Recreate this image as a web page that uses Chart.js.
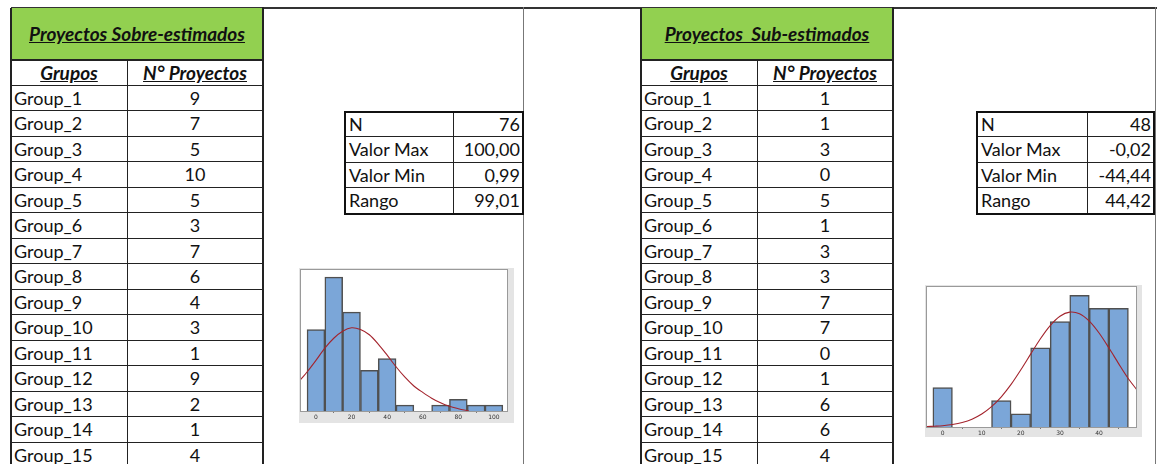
<!DOCTYPE html>
<html>
<head>
<meta charset="utf-8">
<script src="https://cdn.jsdelivr.net/npm/chart.js@4.4.1/dist/chart.umd.min.js"></script>
<style>
  body { margin: 0; background: #fff; width: 1157px; height: 464px; overflow: hidden; position: relative; font-family: Lato, "Open Sans", sans-serif; }
  .c { position: absolute; box-sizing: border-box; font-size: 18px; color: #111; white-space: pre; overflow: hidden; }
  .ln { position: absolute; background: #222; }
  canvas { position: absolute; }
</style>
</head>
<body>
<canvas id="hist1" width="215" height="155" style="left:299px;top:268px"></canvas>
<canvas id="hist2" width="217" height="152" style="left:925px;top:285px"></canvas>
<script>
// Datos de las tablas
const grupos = ['Group_1','Group_2','Group_3','Group_4','Group_5','Group_6','Group_7','Group_8',
                'Group_9','Group_10','Group_11','Group_12','Group_13','Group_14','Group_15'];
const proyectosSobre = [9, 7, 5, 10, 5, 3, 7, 6, 4, 3, 1, 9, 2, 1, 4];
const proyectosSub = [1, 1, 3, 0, 5, 1, 3, 3, 7, 7, 0, 1, 6, 6, 4];

const statsLabels = ['N', 'Valor Max', 'Valor Min', 'Rango'];
const statsSobre = ['76', '100,00', '0,99', '99,01'];
const statsSub = ['48', '-0,02', '-44,44', '44,42'];

// Histograma 1 (sobre-estimados): centros de clase y frecuencias
const bins1 = [0, 10, 20, 30, 40, 50, 60, 70, 80, 90, 100];
const freq1 = [14, 23, 17, 7, 9, 1, 0, 1, 2, 1, 1];
const curveX1 = [-10, -5, 0, 5, 10, 15, 20, 25, 30, 35, 40, 45, 50, 55, 60, 65, 70, 75, 80, 86];
const curveY1 = [4.9, 6.7, 8.7, 10.8, 12.5, 13.7, 14.3, 14.0, 13.1, 11.5, 9.6, 7.6, 5.8, 4.3, 3.2, 2.2, 1.4, 0.8, 0.4, 0];
const xTicks1 = [0, 20, 40, 60, 80, 100];

// Histograma 2 (sub-estimados)
const bins2 = [0, 5, 10, 15, 20, 25, 30, 35, 40, 45];
const freq2 = [3, 0, 0, 2, 1, 6, 8, 10, 9, 9];
const curveX2 = [-4, -2, 0, 2.5, 5, 7.5, 10, 12.5, 15, 17.5, 20, 22.5, 25, 27.5, 30, 32.5, 35, 37.5, 40, 42.5, 45, 47.5, 50];
const curveY2 = [0.03, 0.06, 0.1, 0.19, 0.34, 0.59, 0.98, 1.54, 2.29, 3.23, 4.34, 5.53, 6.7, 7.7, 8.41, 8.72, 8.59, 8.03, 7.13, 6.01, 4.81, 3.66, 2.7];
const xTicks2 = [0, 10, 20, 30, 40];

// ---- hoja de cálculo ----
function cell(x, y, w, h, text, css) {
    const d = document.createElement('div');
    d.className = 'c';
    d.style.cssText = `left:${x}px;top:${y}px;width:${w}px;height:${h}px;` + (css || '');
    d.textContent = text;
    document.body.appendChild(d);
    return d;
}
function line(x, y, w, h, color) {
    const d = document.createElement('div');
    d.className = 'ln';
    d.style.cssText = `left:${x}px;top:${y}px;width:${w}px;height:${h}px;` + (color ? `background:${color};` : '');
    document.body.appendChild(d);
}

const ROW = 25.5, HEAD_TOP = 60, DATA_TOP = 85.5;
const TXT = 'line-height:25px;';
const HDR = 'font-weight:bold;font-style:italic;text-decoration:underline;text-align:center;font-size:19px;';

function buildTable(x0, colA, colB, title, counts) {
    const w = colA + colB;
    cell(x0, 8, w, 52, title, HDR + 'background:#92d050;line-height:52px;');
    cell(x0, HEAD_TOP, colA, ROW, 'Grupos', HDR + 'line-height:26px;');
    cell(x0 + colA, HEAD_TOP, colB, ROW, 'N° Proyectos', HDR + 'line-height:26px;');
    grupos.forEach((g, i) => {
        const y = DATA_TOP + i * ROW;
        cell(x0, y, colA, ROW, g, TXT + 'padding-left:3px;');
        cell(x0 + colA, y, colB, ROW, String(counts[i]), TXT + 'text-align:center;');
    });
    // líneas horizontales
    for (let i = 0; i <= grupos.length; i++) {
        line(x0, Math.round(DATA_TOP + i * ROW) - 1, w, 1.3);
    }
    line(x0, HEAD_TOP - 1, w, 2);
    line(x0 + colA, HEAD_TOP, 1.3, 464 - HEAD_TOP);
    line(x0 - 1, 8, 1.5, 456);
    line(x0 + w - 1, 7, 2.2, 457);
}

function buildStats(x0, y0, colA, colB, values) {
    statsLabels.forEach((s, i) => {
        const y = y0 + i * ROW;
        cell(x0, y, colA, ROW, s, TXT + 'padding-left:4px;');
        cell(x0 + colA, y, colB, ROW, values[i], TXT + 'text-align:right;padding-right:3px;');
        if (i > 0) line(x0, Math.round(y) - 1, colA + colB, 1.2);
    });
    line(x0 + colA, y0, 1.2, ROW * 4);
    const b = document.createElement('div');
    b.style.cssText = `position:absolute;left:${x0 - 1}px;top:${y0 - 1}px;width:${colA + colB + 2}px;height:${ROW * 4 + 2}px;border:2px solid #111;box-sizing:border-box;`;
    document.body.appendChild(b);
}

// borde superior y separadores de columnas
line(11, 7, 1146, 1.6, '#333');
line(523, 7, 1.3, 457, '#777');
line(1155, 7, 1.3, 457, '#777');

buildTable(11, 116, 136, 'Proyectos Sobre-estimados', proyectosSobre);
buildTable(641, 116, 136, 'Proyectos  Sub-estimados', proyectosSub);
buildStats(345, 111.5, 108, 70, statsSobre);
buildStats(977, 111.5, 110, 67, statsSub);

// ---- histogramas ----
const frame = {
    id: 'frame',
    beforeDraw(chart) {
        const { ctx, chartArea: a, width, height } = chart;
        ctx.save();
        ctx.fillStyle = '#e4e4e4';
        ctx.fillRect(0, 0, width, height);
        ctx.fillStyle = '#fff';
        ctx.fillRect(a.left, a.top, a.right - a.left, a.bottom - a.top);
        ctx.restore();
    },
    afterDraw(chart) {
        const { ctx, chartArea: a } = chart;
        ctx.save();
        ctx.strokeStyle = '#9a9a9a';
        ctx.lineWidth = 1;
        ctx.strokeRect(a.left - 0.5, a.top + 0.5, a.right - a.left, a.bottom - a.top);
        ctx.restore();
    }
};

function histogram(id, bins, freq, cx, cy, ticks, xmin, xmax, ymax, pad, axisH) {
    new Chart(document.getElementById(id), {
        data: {
            datasets: [{
                type: 'line',
                data: cx.map((x, i) => ({ x, y: cy[i] })),
                borderColor: '#a3232c',
                borderWidth: 1.1,
                pointRadius: 0,
                tension: 0.3,
                order: 0
            }, {
                type: 'bar',
                data: bins.map((x, i) => ({ x, y: freq[i] })),
                backgroundColor: '#7ba6d8',
                borderColor: '#505050',
                borderWidth: 1.5,
                borderSkipped: 'bottom',
                barPercentage: 1,
                categoryPercentage: 1,
                order: 1
            }]
        },
        options: {
            responsive: false,
            animation: false,
            layout: { padding: pad },
            plugins: { legend: { display: false }, tooltip: { enabled: false } },
            scales: {
                x: {
                    type: 'linear', min: xmin, max: xmax, offset: false,
                    afterBuildTicks: s => { s.ticks = ticks.map(v => ({ value: v })); },
                    afterFit: s => { s.height = axisH; },
                    grid: { display: true, drawOnChartArea: false, drawTicks: true, tickLength: 2, color: '#777' },
                    border: { display: false },
                    ticks: { font: { size: 6, family: 'DejaVu Sans' }, color: '#333', padding: 1, maxRotation: 0 }
                },
                y: { display: false, min: 0, max: ymax }
            }
        },
        plugins: [frame]
    });
}

histogram('hist1', bins1, freq1, curveX1, curveY1, xTicks1, -8.4, 107.9, 24.4,
          { left: 2, top: 1, right: 6, bottom: 0 }, 12);
histogram('hist2', bins2, freq2, curveX2, curveY2, xTicks2, -4.0, 49.7, 10.7,
          { left: 2, top: 1, right: 5, bottom: 0 }, 10);
</script>
</body>
</html>
